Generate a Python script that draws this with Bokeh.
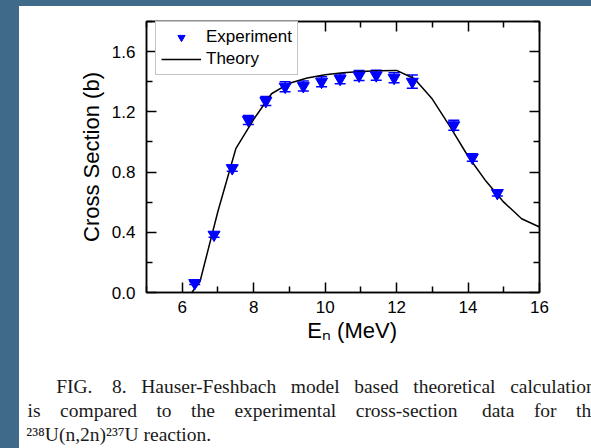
from bokeh.plotting import figure
from bokeh.models import (Range1d, FixedTicker, LinearAxis, Whisker, TeeHead,
                          ColumnDataSource, Legend, LegendItem, PrintfTickFormatter)
from bokeh.embed import file_html
from bokeh.resources import INLINE

# Measured 238U(n,2n)237U cross sections (barn) vs neutron energy (MeV)
exp_energy = [6.35, 6.89, 7.40, 7.85, 8.34, 8.88, 9.39, 9.90, 10.42, 10.95,
              11.43, 11.93, 12.44, 13.60, 14.12, 14.82]
exp_xs = [0.063, 0.384, 0.826, 1.146, 1.272, 1.367, 1.371, 1.400, 1.419, 1.441,
          1.443, 1.426, 1.400, 1.111, 0.896, 0.661]
exp_err = [0.010, 0.017, 0.020, 0.030, 0.030, 0.033, 0.033, 0.033, 0.033, 0.033,
           0.033, 0.033, 0.044, 0.033, 0.025, 0.020]

# Hauser-Feshbach calculation
theory_energy = [6.27, 6.5, 7.0, 7.5, 8.0, 8.5, 9.0, 9.5, 10.0, 10.5, 11.0,
                 11.5, 12.0, 12.5, 13.0, 13.5, 14.0, 14.5, 15.0, 15.5, 16.0]
theory_xs = [0.0, 0.075, 0.54, 0.955, 1.15, 1.32, 1.39, 1.425, 1.447, 1.46, 1.468,
             1.473, 1.475, 1.42, 1.285, 1.10, 0.905, 0.74, 0.60, 0.49, 0.435]

x_major = [6, 8, 10, 12, 14, 16]
x_minor = [5, 7, 9, 11, 13, 15]
y_major = [0.0, 0.4, 0.8, 1.2, 1.6]
y_minor = [0.2, 0.6, 1.0, 1.4, 1.8]

# caption text
caption_line1 = "FIG. 8. Hauser-Feshbach model based theoretical calculation"
caption_line2 = "is compared to the experimental cross-section data for the"
caption_line3 = "\u00b2\u00b3\u2078U(n,2n)\u00b2\u00b3\u2077U reaction."

SANS = "Liberation Sans"
SERIF = "Liberation Serif"
BLUE = "#0000ff"
SLIDE = "#3f6a8a"

W, H = 591, 448
BORDER_L, BORDER_R, BORDER_T, BORDER_B = 146, 52, 21, 153

# ---------------------------------------------------------------- chart
p = figure(width=W, height=H, x_range=Range1d(5, 16), y_range=Range1d(0, 1.8),
           output_backend="svg", toolbar_location=None,
           min_border_left=BORDER_L, min_border_right=BORDER_R,
           min_border_top=BORDER_T, min_border_bottom=BORDER_B,
           background_fill_color="white", border_fill_color=None,
           outline_line_color="black", outline_line_width=1.5,
           styles={"background": (f"linear-gradient(to bottom, {SLIDE} 6px, transparent 6px), "
                                  f"linear-gradient(to right, {SLIDE} 19px, white 19px)")})
p.grid.visible = False


def style_axis(ax, major, minor):
    ax.ticker = FixedTicker(ticks=major, minor_ticks=minor)
    ax.major_tick_in = 10
    ax.major_tick_out = 0
    ax.minor_tick_in = 6
    ax.minor_tick_out = 0
    ax.axis_line_width = 1.5
    ax.major_tick_line_width = 1.5
    ax.minor_tick_line_width = 1.5
    ax.axis_line_color = "black"
    ax.major_tick_line_color = "black"
    ax.minor_tick_line_color = "black"
    ax.major_label_text_font = SANS
    ax.major_label_text_font_size = "17px"
    ax.major_label_text_color = "black"
    ax.axis_label_text_font = SANS
    ax.axis_label_text_font_size = "22px"
    ax.axis_label_text_font_style = "normal"
    ax.axis_label_text_color = "black"


xa = p.xaxis[0]
style_axis(xa, x_major, x_minor)
xa.major_label_standoff = 8
xa.axis_label = "\u00a0\u00a0\u00a0E\u2099 (MeV)"
xa.axis_label_standoff = 2

ya = p.yaxis[0]
style_axis(ya, y_major, y_minor)
ya.formatter = PrintfTickFormatter(format="%.1f")
ya.major_label_standoff = 11
ya.axis_label = "Cross Section (b)"
ya.axis_label_standoff = 5

# mirrored tick frames on the top and right edges
top = LinearAxis()
style_axis(top, x_major, x_minor)
right = LinearAxis()
style_axis(right, y_major, y_minor)
for ax in (top, right):
    ax.major_label_text_color = None
    ax.major_label_text_font_size = "1px"
    ax.major_label_standoff = 0
p.add_layout(top, "above")
p.add_layout(right, "right")

src = ColumnDataSource(dict(
    x=exp_energy,
    y=exp_xs,
    lower=[v - e for v, e in zip(exp_xs, exp_err)],
    upper=[v + e for v, e in zip(exp_xs, exp_err)],
))

r_th = p.line(theory_energy, theory_xs, line_color="black", line_width=1.5)

p.add_layout(Whisker(source=src, base="x", lower="lower", upper="upper",
                     dimension="height", line_color=BLUE, line_width=1.5,
                     upper_head=TeeHead(size=11, line_color=BLUE, line_width=1.5),
                     lower_head=TeeHead(size=11, line_color=BLUE, line_width=1.5)))

r_exp = p.scatter("x", "y", source=src, marker="inverted_triangle", size=12,
                  fill_color=BLUE, line_color=BLUE)

legend = Legend(items=[LegendItem(label="Experiment", renderers=[r_exp]),
                       LegendItem(label="Theory", renderers=[r_th])],
                location=(9, 217), margin=0, padding=5, spacing=2,
                glyph_width=40, glyph_height=18, label_height=18, label_standoff=5,
                label_text_font=SANS, label_text_font_size="17px",
                label_text_color="black",
                border_line_color="#8a8a8a", border_line_width=1,
                background_fill_color="white", background_fill_alpha=1)
p.add_layout(legend)

# ---------------------------------------------------------------- caption
# The caption is set as a multi-line label of a bare axis below the energy axis.
# Lines are padded with no-break spaces so that each has the same width; the
# centred block then starts at the sheet margin and the first two lines are justified.
CAP_FS = 19.5
NBSP = "\u00a0"

# Times advance widths (1/1000 em) for the glyphs used in the caption
TIMES_W = {" ": 250, NBSP: 250, "(": 333, ")": 333, ",": 250, "-": 333, ".": 250,
           "2": 500, "3": 500, "7": 500, "8": 500,
           "\u00b2": 300, "\u00b3": 300, "\u2077": 300, "\u2078": 300,
           "F": 556, "G": 722, "H": 722, "I": 333, "U": 722,
           "a": 444, "b": 500, "c": 444, "d": 500, "e": 444, "f": 333, "h": 500,
           "i": 278, "l": 278, "m": 778, "n": 500, "o": 500, "p": 500, "r": 333,
           "s": 389, "t": 278, "u": 500, "x": 500}
NB_W = TIMES_W[NBSP] * CAP_FS / 1000.0

frame_center = BORDER_L + (W - BORDER_L - BORDER_R) / 2.0
BLOCK_L = 26.0
BLOCK_R = 2 * frame_center - BLOCK_L


def text_width(s):
    return sum(TIMES_W[c] for c in s) * CAP_FS / 1000.0


def padded(line, left, right=None):
    words = line.split() if right is not None else [line]
    widths = [text_width(w) for w in words]
    gap = (right - left - sum(widths)) / (len(words) - 1) if len(words) > 1 else 0.0
    k = max(0, round((left - BLOCK_L) / NB_W))
    out, x, target = NBSP * k, BLOCK_L + k * NB_W, left
    for i, (w, wd) in enumerate(zip(words, widths)):
        if i > 0:
            k = max(1, round((target - x) / NB_W))
            out += NBSP * k
            x += k * NB_W
        out += w
        x += wd
        target += wd + gap
    out += NBSP * max(0, round((BLOCK_R - x) / NB_W))
    return out


caption_text = "\n".join([padded(caption_line1, 57, 597),
                          padded(caption_line2, 26, 597),
                          padded(caption_line3, 27)])

cap_axis = LinearAxis(ticker=FixedTicker(ticks=[], minor_ticks=[]),
                      axis_line_color=None, major_tick_line_color=None,
                      minor_tick_line_color=None,
                      major_tick_in=0, major_tick_out=0, minor_tick_in=0, minor_tick_out=0,
                      major_label_text_font_size="1px", major_label_standoff=0,
                      axis_label=caption_text, axis_label_standoff=30,
                      axis_label_text_font=SERIF, axis_label_text_font_size=f"{CAP_FS}px",
                      axis_label_text_font_style="normal", axis_label_text_color="#1a1a1a",
                      axis_label_text_line_height=1.16)
p.add_layout(cap_axis, "below")

open("out.html", "w").write(file_html(p, INLINE))
